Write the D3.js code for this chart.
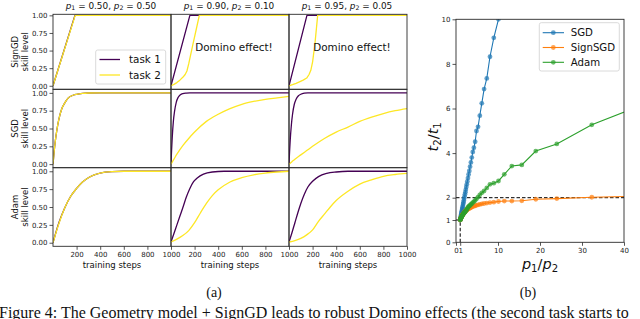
<!DOCTYPE html>
<html>
<head>
<meta charset="utf-8">
<script src="https://cdn.jsdelivr.net/npm/d3@7/dist/d3.min.js"></script>
<style>
html,body{margin:0;padding:0;background:#fff;}
svg{display:block;}
</style>
</head>
<body>
<svg id="chart" width="640" height="319"></svg>
<script>
// ---------------- data ----------------
const rowNames = ["SignGD", "SGD", "Adam"];
const colP1 = ["0.50", "0.90", "0.95"];
const colP2 = ["0.50", "0.10", "0.05"];
const stepTicks = [200, 400, 600, 800, 1000];
const skillTicks = [0, 0.25, 0.5, 0.75, 1];
const skillTickLabels = ["0.00", "0.25", "0.50", "0.75", "1.00"];
const taskNames = ["task 1", "task 2"];

// SignGD row
const signA_t1_steps = [0, 186, 1000];
const signA_t1 = [0, 1, 1];
const signA_t2_steps = [0, 188, 1000];
const signA_t2 = [0, 1, 1];
const signB_t1_steps = [0, 160, 1000];
const signB_t1 = [0, 1, 1];
const signB_t2_steps = [0, 25, 50, 75, 100, 120, 135, 150, 186, 215, 240, 1000];
const signB_t2 = [0, 0.02, 0.045, 0.08, 0.12, 0.16, 0.21, 0.31, 0.59, 0.81, 1, 1];
const signC_t1_steps = [0, 152, 1000];
const signC_t1 = [0, 1, 1];
const signC_t2_steps = [0, 30, 60, 93, 120, 150, 170, 185, 200, 220, 243, 1000];
const signC_t2 = [0, 0.015, 0.035, 0.06, 0.08, 0.11, 0.16, 0.22, 0.34, 0.6, 1, 1];

// SGD row
const sgdA_steps = [0, 10, 20, 35, 50, 75, 100, 130, 160, 200, 250, 300, 400, 500, 1000];
const sgdA_t1 = [0, 0.18, 0.33, 0.50, 0.63, 0.78, 0.86, 0.93, 0.96, 0.98, 0.993, 0.998, 1, 1, 1];
const sgdA_t2 = [0, 0.18, 0.33, 0.50, 0.63, 0.78, 0.86, 0.93, 0.96, 0.98, 0.993, 0.998, 1, 1, 1];
const sgdB_t1_steps = [0, 5, 10, 20, 30, 45, 60, 80, 100, 130, 160, 200, 1000];
const sgdB_t1 = [0, 0.2, 0.36, 0.6, 0.74, 0.87, 0.935, 0.975, 0.99, 0.997, 1, 1, 1];
const sgdB_t2_steps = [0, 25, 50, 100, 150, 200, 300, 400, 500, 600, 700, 800, 900, 1000];
const sgdB_t2 = [0, 0.07, 0.14, 0.26, 0.36, 0.45, 0.60, 0.70, 0.78, 0.84, 0.88, 0.91, 0.93, 0.95];
const sgdC_t1_steps = [0, 5, 10, 20, 30, 45, 60, 80, 100, 130, 160, 200, 1000];
const sgdC_t1 = [0, 0.18, 0.33, 0.55, 0.70, 0.84, 0.91, 0.96, 0.98, 0.995, 1, 1, 1];
const sgdC_t2_steps = [0, 25, 50, 100, 150, 200, 300, 400, 500, 600, 700, 800, 900, 1000];
const sgdC_t2 = [0, 0.035, 0.07, 0.13, 0.19, 0.25, 0.36, 0.45, 0.52, 0.60, 0.66, 0.71, 0.75, 0.78];

// Adam row
const adamA_steps = [0, 50, 100, 150, 200, 250, 300, 350, 400, 500, 600, 1000];
const adamA_t1 = [0, 0.28, 0.49, 0.65, 0.76, 0.85, 0.91, 0.95, 0.975, 0.995, 1, 1];
const adamA_t2 = [0, 0.27, 0.49, 0.65, 0.76, 0.85, 0.91, 0.95, 0.975, 0.995, 1, 1];
const adamB_t1_steps = [0, 25, 50, 75, 100, 130, 160, 190, 225, 275, 350, 450, 1000];
const adamB_t1 = [0.01, 0.13, 0.25, 0.37, 0.49, 0.64, 0.76, 0.85, 0.91, 0.96, 0.99, 1, 1];
const adamB_t2_steps = [0, 50, 100, 150, 200, 250, 300, 350, 400, 500, 600, 700, 800, 900, 1000];
const adamB_t2 = [0.01, 0.05, 0.10, 0.17, 0.28, 0.42, 0.55, 0.66, 0.74, 0.85, 0.91, 0.95, 0.975, 0.99, 1.0];
const adamC_t1_steps = [0, 25, 50, 75, 100, 130, 160, 200, 250, 320, 400, 500, 1000];
const adamC_t1 = [0.01, 0.14, 0.28, 0.42, 0.55, 0.68, 0.78, 0.86, 0.925, 0.97, 0.99, 1, 1];
const adamC_t2_steps = [0, 50, 100, 150, 200, 250, 300, 350, 400, 500, 600, 700, 800, 900, 1000];
const adamC_t2 = [0.01, 0.03, 0.06, 0.11, 0.18, 0.30, 0.40, 0.50, 0.59, 0.72, 0.82, 0.88, 0.93, 0.955, 0.97];

// right panel: t2/t1 vs p1/p2
const optNames = ["SGD", "SignSGD", "Adam"];
const ratioXTicks = [0, 1, 10, 20, 30, 40];
const ratioYTicks = [0, 1, 2, 4, 6, 8, 10];
const ratios = [1.00,1.04,1.08,1.13,1.17,1.22,1.27,1.33,1.38,1.44,
                1.50,1.56,1.63,1.70,1.78,1.86,1.94,2.03,2.13,2.23,
                2.33,2.45,2.57,2.70,2.85,3.00,3.17,3.35,3.55,3.76,
                4.00,4.26,4.56,4.88,5.25,5.67,6.14,6.69,7.33,8.09,
                9.00,10.11,11.50,13.29,15.67,19.00,24.00,32.33,49.00];
const sgdRatio = [1.00,1.05,1.09,1.13,1.18,1.23,1.28,1.34,1.39,1.45,
                  1.51,1.57,1.64,1.72,1.79,1.88,1.96,2.05,2.15,2.25,
                  2.36,2.48,2.60,2.73,2.88,3.04,3.20,3.39,3.58,3.80,
                  4.05,4.24,4.51,4.99,5.18,5.68,6.23,6.87,7.35,8.32,
                  9.17,10.0,11.7,13.5,16.0,19.4,24.5,33.0,50.0];
const signRatio = [1.00,1.02,1.05,1.07,1.09,1.11,1.13,1.15,1.17,1.19,
                   1.21,1.23,1.25,1.27,1.29,1.31,1.33,1.35,1.37,1.39,
                   1.41,1.43,1.45,1.47,1.49,1.51,1.52,1.54,1.56,1.58,
                   1.60,1.62,1.64,1.66,1.68,1.70,1.72,1.74,1.76,1.78,
                   1.80,1.83,1.85,1.85,1.86,1.93,1.96,2.02,2.10];
const adamRatio = [1.00,1.02,1.04,1.06,1.08,1.10,1.12,1.14,1.16,1.18,
                   1.20,1.22,1.24,1.26,1.28,1.30,1.32,1.34,1.36,1.38,
                   1.41,1.44,1.47,1.52,1.56,1.60,1.63,1.66,1.70,1.73,
                   1.78,1.82,1.88,1.95,2.03,2.13,2.22,2.30,2.44,2.60,
                   2.65,2.75,3.05,3.42,3.47,4.09,4.41,5.27,6.50];

// ---------------- drawing ----------------
const svg = d3.select("#chart");
const SANS = "'DejaVu Sans', sans-serif";
const SERIF = "'Liberation Serif', 'Times New Roman', serif";
const PURPLE = "#440154", YELLOW = "#fde725";
const SPINE = "#2b2b2b";
const optColors = ["#1f77b4", "#ff7f0e", "#2ca02c"];
const intFmt = d3.format("d");

const zip = (s, v) => s.map((d, i) => [d, v[i]]);
const panels = [
  [[zip(signA_t1_steps, signA_t1), zip(signA_t2_steps, signA_t2)],
   [zip(signB_t1_steps, signB_t1), zip(signB_t2_steps, signB_t2)],
   [zip(signC_t1_steps, signC_t1), zip(signC_t2_steps, signC_t2)]],
  [[zip(sgdA_steps, sgdA_t1), zip(sgdA_steps, sgdA_t2)],
   [zip(sgdB_t1_steps, sgdB_t1), zip(sgdB_t2_steps, sgdB_t2)],
   [zip(sgdC_t1_steps, sgdC_t1), zip(sgdC_t2_steps, sgdC_t2)]],
  [[zip(adamA_steps, adamA_t1), zip(adamA_steps, adamA_t2)],
   [zip(adamB_t1_steps, adamB_t1), zip(adamB_t2_steps, adamB_t2)],
   [zip(adamC_t1_steps, adamC_t1), zip(adamC_t2_steps, adamC_t2)]]
];

const colX = [53, 171, 289, 407];
const rowBox = [[14.3, 89.3, 1.015], [89.3, 167.7, 1.05], [167.7, 246.3, 1.05]];

// math-like text helper: parts = [[text, italic, sub]]
function mathText(g, parts, size) {
  parts.forEach(([t, it, sub], i) => {
    const prevSub = i > 0 && parts[i - 1][2];
    const ts = g.append("tspan").text(t)
      .attr("font-style", it ? "italic" : "normal")
      .attr("font-size", sub ? size * 0.7 : size);
    if (sub && !prevSub) ts.attr("dy", size * 0.22);
    if (!sub && prevSub) ts.attr("dy", -size * 0.22);
  });
}

const defs = svg.append("defs");

for (let r = 0; r < 3; r++) {
  const [top, bot, ymax] = rowBox[r];
  const y = d3.scaleLinear().domain([-0.05, ymax]).range([bot, top]);
  for (let c = 0; c < 3; c++) {
    const x = d3.scaleLinear().domain([0, 1000]).range([colX[c], colX[c + 1]]);
    const g = svg.append("g");
    const cid = `clip${r}${c}`;
    defs.append("clipPath").attr("id", cid).append("rect")
      .attr("x", colX[c]).attr("y", top).attr("width", colX[c + 1] - colX[c]).attr("height", bot - top);
    const line = d3.line().x(d => x(d[0])).y(d => y(d[1]))
      .curve(r === 0 ? d3.curveLinear : d3.curveMonotoneX);
    const lg = g.append("g").attr("clip-path", `url(#${cid})`);
    panels[r][c].forEach((ser, k) => {
      lg.append("path").datum(ser).attr("d", line).attr("fill", "none")
        .attr("stroke", k === 0 ? PURPLE : YELLOW).attr("stroke-width", 1.3)
        .attr("stroke-linejoin", "round");
    });
    // spines
    g.append("rect").attr("x", colX[c]).attr("y", top)
      .attr("width", colX[c + 1] - colX[c]).attr("height", bot - top)
      .attr("fill", "none").attr("stroke", SPINE).attr("stroke-width", 0.9);

    if (c === 0) {
      const ya = g.append("g").attr("transform", `translate(${colX[0]},0)`)
        .call(d3.axisLeft(y).tickValues(skillTicks).tickSize(3.5).tickPadding(2)
          .tickFormat((d, i) => skillTickLabels[i]));
      ya.select(".domain").remove();
      ya.selectAll("line").attr("stroke", SPINE).attr("stroke-width", 0.8);
      ya.selectAll("text").attr("font-family", SANS).attr("font-size", 7).attr("fill", "#222");
      const lab = g.append("g").attr("transform", `translate(18,${(top + bot) / 2}) rotate(-90)`);
      lab.append("text").attr("text-anchor", "middle").attr("y", 0)
        .attr("font-family", SANS).attr("font-size", 8.5).attr("fill", "#111").text(rowNames[r]);
      lab.append("text").attr("text-anchor", "middle").attr("y", 10)
        .attr("font-family", SANS).attr("font-size", 8.5).attr("fill", "#111").text("skill level");
    }
    if (r === 2) {
      const xa = g.append("g").attr("transform", `translate(0,${bot})`)
        .call(d3.axisBottom(x).tickValues(stepTicks).tickSize(3.5).tickPadding(2).tickFormat(intFmt));
      xa.select(".domain").remove();
      xa.selectAll("line").attr("stroke", SPINE).attr("stroke-width", 0.8);
      xa.selectAll("text").attr("font-family", SANS).attr("font-size", 7).attr("fill", "#222");
      g.append("text").attr("x", (colX[c] + colX[c + 1]) / 2).attr("y", 267.5)
        .attr("text-anchor", "middle").attr("font-family", SANS).attr("font-size", 8.5)
        .attr("fill", "#111").text("training steps");
    }
    if (r === 0) {
      const t = g.append("text").attr("x", (colX[c] + colX[c + 1]) / 2 - 1).attr("y", 8.5)
        .attr("text-anchor", "middle").attr("font-family", SANS).attr("fill", "#111");
      mathText(t, [["p", true, false], ["1", false, true], [" = " + colP1[c] + ", ", false, false],
                   ["p", true, false], ["2", false, true], [" = " + colP2[c], false, false]], 8.9);
      if (c > 0) {
        g.append("text").attr("x", (colX[c] + colX[c + 1]) / 2 + 4).attr("y", 50.5)
          .attr("text-anchor", "middle").attr("font-family", SANS).attr("font-size", 10.4)
          .attr("fill", "#111").text("Domino effect!");
      }
    }
    if (r === 0 && c === 0) {
      const leg = g.append("g");
      leg.append("rect").attr("x", 95.7).attr("y", 50).attr("width", 70).attr("height", 34)
        .attr("rx", 2).attr("fill", "rgba(255,255,255,0.85)").attr("stroke", "#d0d0d0").attr("stroke-width", 0.8);
      taskNames.forEach((n, k) => {
        const yy = 59.5 + k * 15.5;
        leg.append("line").attr("x1", 99.5).attr("x2", 120).attr("y1", yy).attr("y2", yy)
          .attr("stroke", k === 0 ? PURPLE : YELLOW).attr("stroke-width", 1.3);
        leg.append("text").attr("x", 129).attr("y", yy + 3.7).attr("font-family", SANS)
          .attr("font-size", 10.4).attr("fill", "#111").text(n);
      });
    }
  }
}

// ---------- right panel ----------
const RX0 = 456, RX1 = 624, RY0 = 19.3, RY1 = 242.3;
const xr = d3.scaleLinear().domain([0, 40]).range([RX0, RX1]);
const yr = d3.scaleLinear().domain([0, 10]).range([RY1, RY0]);
const rg = svg.append("g");
defs.append("clipPath").attr("id", "clipR").append("rect")
  .attr("x", RX0).attr("y", RY0).attr("width", RX1 - RX0).attr("height", RY1 - RY0);
const rc = rg.append("g").attr("clip-path", "url(#clipR)");

// reference dashed lines
rc.append("line").attr("x1", xr(0)).attr("x2", xr(40)).attr("y1", yr(2)).attr("y2", yr(2))
  .attr("stroke", "#000").attr("stroke-width", 1).attr("stroke-dasharray", "3.5,2");
rc.append("line").attr("x1", xr(1)).attr("x2", xr(1)).attr("y1", yr(0)).attr("y2", yr(1))
  .attr("stroke", "#000").attr("stroke-width", 1).attr("stroke-dasharray", "3.5,2");
rc.append("line").attr("x1", xr(0)).attr("x2", xr(1)).attr("y1", yr(1)).attr("y2", yr(1))
  .attr("stroke", "#000").attr("stroke-width", 1).attr("stroke-dasharray", "3.5,2");

const optSeries = [sgdRatio, signRatio, adamRatio];
const rline = d3.line().x(d => xr(d[0])).y(d => yr(d[1]));
optSeries.forEach((vals, k) => {
  const pts = zip(ratios, vals);
  rc.append("path").datum(pts).attr("d", rline).attr("fill", "none")
    .attr("stroke", optColors[k]).attr("stroke-width", 1.1);
  rc.append("g").selectAll("circle").data(pts).join("circle")
    .attr("cx", d => xr(d[0])).attr("cy", d => yr(d[1])).attr("r", 2.4)
    .attr("fill", optColors[k]).attr("fill-opacity", 0.7);
});

rg.append("rect").attr("x", RX0).attr("y", RY0).attr("width", RX1 - RX0).attr("height", RY1 - RY0)
  .attr("fill", "none").attr("stroke", SPINE).attr("stroke-width", 0.9);

const rxa = rg.append("g").attr("transform", `translate(0,${RY1})`)
  .call(d3.axisBottom(xr).tickValues(ratioXTicks).tickSize(3.5).tickPadding(2).tickFormat(intFmt));
rxa.select(".domain").remove();
rxa.selectAll("line").attr("stroke", SPINE).attr("stroke-width", 0.8);
rxa.selectAll("text").attr("font-family", SANS).attr("font-size", 7).attr("fill", "#222");
const rya = rg.append("g").attr("transform", `translate(${RX0},0)`)
  .call(d3.axisLeft(yr).tickValues(ratioYTicks).tickSize(3.5).tickPadding(2).tickFormat(intFmt));
rya.select(".domain").remove();
rya.selectAll("line").attr("stroke", SPINE).attr("stroke-width", 0.8);
rya.selectAll("text").attr("font-family", SANS).attr("font-size", 7).attr("fill", "#222");

const xl = rg.append("text").attr("x", (RX0 + RX1) / 2).attr("y", 269).attr("text-anchor", "middle")
  .attr("font-family", SANS).attr("fill", "#111");
mathText(xl, [["p", true, false], ["1", false, true], ["/", false, false], ["p", true, false], ["2", false, true]], 14.5);
const yl = rg.append("text").attr("transform", `translate(438,${(RY0 + RY1) / 2 + 6}) rotate(-90)`)
  .attr("text-anchor", "middle").attr("font-family", SANS).attr("fill", "#111");
mathText(yl, [["t", true, false], ["2", false, true], ["/", false, false], ["t", true, false], ["1", false, true]], 14.5);

// legend
const rl = rg.append("g");
rl.append("rect").attr("x", 539.3).attr("y", 22.7).attr("width", 80).attr("height", 48.3)
  .attr("rx", 2).attr("fill", "rgba(255,255,255,0.85)").attr("stroke", "#d0d0d0").attr("stroke-width", 0.8);
optNames.forEach((n, k) => {
  const yy = 32.7 + k * 14.8;
  rl.append("line").attr("x1", 542.7).attr("x2", 564).attr("y1", yy).attr("y2", yy)
    .attr("stroke", optColors[k]).attr("stroke-width", 1.1);
  rl.append("circle").attr("cx", 553.3).attr("cy", yy).attr("r", 2.4)
    .attr("fill", optColors[k]).attr("fill-opacity", 0.7);
  rl.append("text").attr("x", 570.7).attr("y", yy + 3.6).attr("font-family", SANS)
    .attr("font-size", 10.2).attr("fill", "#111").text(n);
});

// captions
svg.append("text").attr("x", 214).attr("y", 296.5).attr("text-anchor", "middle")
  .attr("font-family", SERIF).attr("font-size", 14).attr("fill", "#111").text("(a)");
svg.append("text").attr("x", 528).attr("y", 296.5).attr("text-anchor", "middle")
  .attr("font-family", SERIF).attr("font-size", 14).attr("fill", "#111").text("(b)");
svg.append("text").attr("x", -1).attr("y", 317.5)
  .attr("font-family", SERIF).attr("font-size", 16).attr("fill", "#111")
  .text("Figure 4: The Geometry model + SignGD leads to robust Domino effects (the second task starts to");
</script>
</body>
</html>
